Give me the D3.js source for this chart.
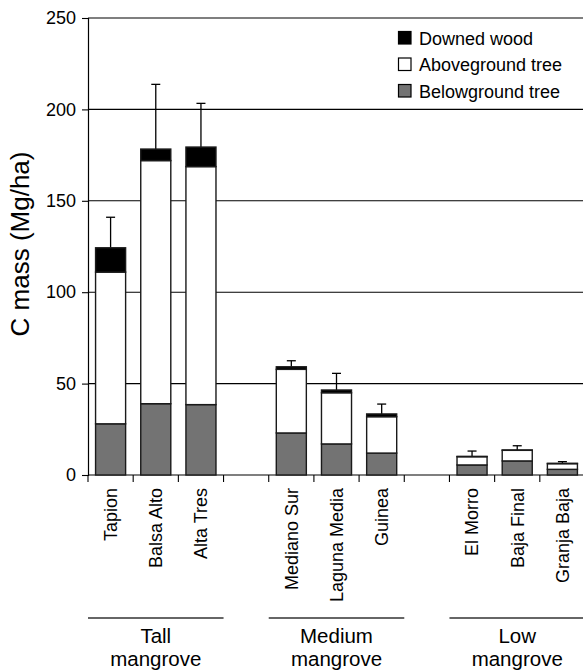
<!DOCTYPE html>
<html>
<head>
<meta charset="utf-8">
<script src="https://cdn.jsdelivr.net/npm/d3@7"></script>
<style>
  html, body { margin: 0; padding: 0; background: #fff; }
  svg { display: block; }
  text { font-family: "Liberation Sans", Arial, Helvetica, sans-serif; fill: #000; }
</style>
</head>
<body>
<svg id="chart" width="583" height="671"></svg>
<script>
// ---- Data ----
const sites = ["Tapion", "Balsa Alto", "Alta Tres", "Mediano Sur", "Laguna Media", "Guinea", "El Morro", "Baja Final", "Granja Baja"];
const siteGroup = ["Tall", "Tall", "Tall", "Medium", "Medium", "Medium", "Low", "Low", "Low"];
const groupNames = ["Tall", "Medium", "Low"];
const groupLabels = [["Tall", "mangrove"], ["Medium", "mangrove"], ["Low", "mangrove"]];
const belowground = [28, 39, 38.5, 23, 17, 12, 5.5, 7.7, 3.1];
const aboveground = [83, 133, 130.2, 34.8, 28, 19.9, 4.5, 5.8, 3.1];
const downedWood = [13.3, 6.3, 10.7, 1.4, 1.5, 1.5, 0.2, 0.2, 0.2];
const errorUp = [16.7, 35.4, 23.9, 3.3, 9.1, 5.4, 2.9, 2.3, 0.9];
const yTicks = [0, 50, 100, 150, 200, 250];
const legendLabels = ["Downed wood", "Aboveground tree", "Belowground tree"];
const seriesKeys = ["below", "above", "downed"];
const seriesColors = { below: "#737373", above: "#ffffff", downed: "#000000" };

// ---- Layout ----
const svg = d3.select("#chart");
const plotL = 88, plotR = 585, plotT = 18, plotB = 475;

// slots: sites with gap slots between groups
const slots = [];
groupNames.forEach((g, gi) => {
  sites.forEach((s, i) => { if (siteGroup[i] === g) slots.push(s); });
  if (gi < groupNames.length - 1) slots.push("gap" + gi);
});

const x = d3.scaleBand().domain(slots).range([plotL, plotR]).paddingInner(0.335).paddingOuter(0.1675);
const step = x.step();
const y = d3.scaleLinear().domain([0, 250]).range([plotB, plotT]);

// gridlines
svg.append("g").selectAll("line").data(yTicks).join("line")
  .attr("x1", plotL).attr("x2", 583)
  .attr("y1", d => y(d)).attr("y2", d => y(d))
  .attr("stroke", "#000").attr("stroke-width", 1.1);

// y axis
const yAxis = svg.append("g").attr("transform", `translate(${plotL},0)`)
  .call(d3.axisLeft(y).tickValues(yTicks).tickSize(6).tickPadding(6).tickFormat(d3.format("d")));
yAxis.select(".domain").attr("stroke", "#000").attr("stroke-width", 1.2);
yAxis.selectAll(".tick line").attr("stroke", "#000").attr("stroke-width", 1.1);
yAxis.selectAll(".tick text").style("font-size", "18px").attr("font-family", "Liberation Sans, Arial, sans-serif");

// x ticks at slot boundaries
const bounds = slots.map(s => x(s) + x.bandwidth() / 2 - step / 2);
svg.append("g").selectAll("line").data(bounds).join("line")
  .attr("x1", d => d).attr("x2", d => d)
  .attr("y1", plotB).attr("y2", plotB + 7)
  .attr("stroke", "#000").attr("stroke-width", 1.1);

// stacked bars
const rows = sites.map((s, i) => ({ site: s, below: belowground[i], above: aboveground[i], downed: downedWood[i], err: errorUp[i] }));
const stack = d3.stack().keys(seriesKeys)(rows);

// error bars (behind bars)
const eg = svg.append("g");
rows.forEach(r => {
  const total = r.below + r.above + r.downed;
  const cx = x(r.site) + x.bandwidth() / 2;
  eg.append("line").attr("x1", cx).attr("x2", cx).attr("y1", y(total)).attr("y2", y(total + r.err))
    .attr("stroke", "#000").attr("stroke-width", 1.3);
  eg.append("line").attr("x1", cx - 4.5).attr("x2", cx + 4.5).attr("y1", y(total + r.err)).attr("y2", y(total + r.err))
    .attr("stroke", "#000").attr("stroke-width", 1.3);
});

svg.append("g").selectAll("g").data(stack).join("g")
  .attr("fill", d => seriesColors[d.key])
  .selectAll("rect").data(d => d).join("rect")
  .attr("x", d => x(d.data.site))
  .attr("width", x.bandwidth())
  .attr("y", d => y(d[1]))
  .attr("height", d => y(d[0]) - y(d[1]))
  .attr("stroke", "#1a1a1a").attr("stroke-width", 1.4);

// category labels
svg.append("g").selectAll("text").data(sites).join("text")
  .attr("transform", d => `translate(${x(d) + x.bandwidth() / 2},488) rotate(-90)`)
  .attr("text-anchor", "end").attr("dy", "0.35em")
  .style("font-size", "18px").text(d => d);

// group lines + labels
groupNames.forEach((g, gi) => {
  const members = sites.filter((s, i) => siteGroup[i] === g);
  const x0 = x(members[0]) + x.bandwidth() / 2 - step / 2;
  const x1 = x(members[members.length - 1]) + x.bandwidth() / 2 + step / 2;
  svg.append("line").attr("x1", x0).attr("x2", x1).attr("y1", 618).attr("y2", 618)
    .attr("stroke", "#333").attr("stroke-width", 1.3);
  groupLabels[gi].forEach((line, li) => {
    svg.append("text").attr("text-anchor", "middle").style("font-size", "20.5px")
      .attr("x", (x0 + x1) / 2).attr("y", 643 + li * 23).text(line);
  });
});

// y-axis title
svg.append("text").attr("transform", "translate(29,244) rotate(-90)")
  .attr("text-anchor", "middle").style("font-size", "26px").text("C mass (Mg/ha)");

// legend
const legendColors = [seriesColors.downed, seriesColors.above, seriesColors.below];
const lg = svg.append("g");
legendLabels.forEach((lab, i) => {
  const yy = 31.5 + i * 26.5;
  lg.append("rect").attr("x", 398.5).attr("y", yy).attr("width", 12.5).attr("height", 12.5)
    .attr("fill", legendColors[i]).attr("stroke", "#000").attr("stroke-width", 1.2);
  lg.append("text").attr("x", 419).attr("y", yy + 13).style("font-size", "18px").text(lab);
});
</script>
</body>
</html>
